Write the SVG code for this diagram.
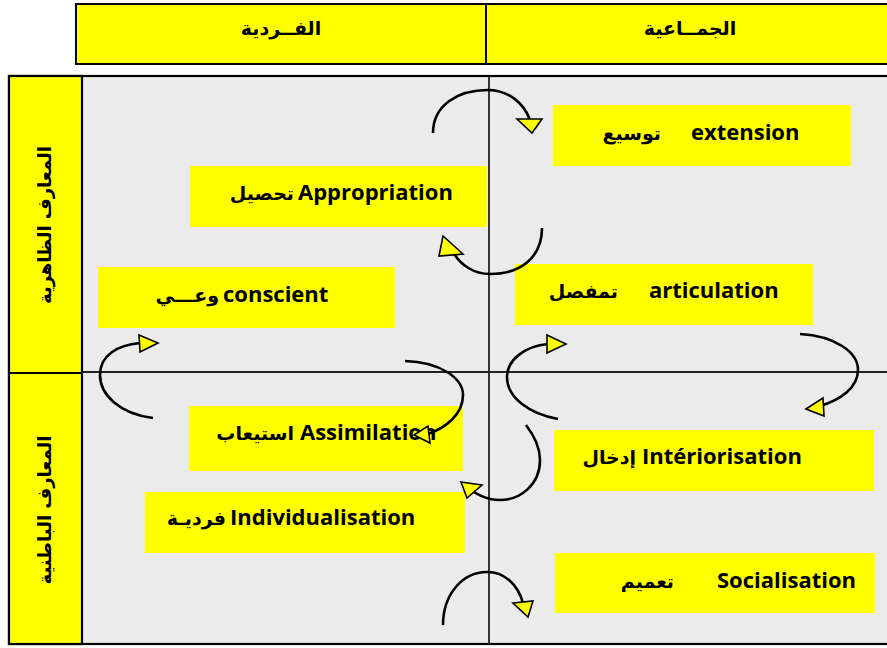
<svg xmlns="http://www.w3.org/2000/svg" width="887" height="648" viewBox="0 0 887 648">
<defs>
<style>
.hdr{fill:#FFFF00;stroke:#000;stroke-width:2}
.box{fill:#FFFF00}
.lat{font-family:'Open Sans','DejaVu Sans',sans-serif;font-weight:bold;font-size:22px;fill:#000}
.ar{font-family:'DejaVu Sans','Noto Sans',sans-serif;font-weight:bold;font-size:19px;fill:#000;text-anchor:end}
.arc2{font-family:'DejaVu Sans','Noto Sans',sans-serif;font-weight:bold;font-size:19px;fill:#000;text-anchor:middle}
.vert{font-family:'DejaVu Sans','Noto Sans',sans-serif;font-weight:bold;font-size:18px;fill:#000;text-anchor:middle}
.div{stroke:#222;stroke-width:1.8}
.arc{fill:none;stroke:#000;stroke-width:2.6;stroke-linecap:butt}
.head{fill:#FFFF00;stroke:#000;stroke-width:1.6;stroke-linejoin:miter}
</style>
</defs>
<rect width="887" height="648" fill="#fff"/>
<g id="header">
<rect class="hdr" x="76" y="4" width="812" height="60"/>
<line x1="486" y1="4" x2="486" y2="64" stroke="#000" stroke-width="2"/>
<text class="arc2" x="281" y="35">الفــردية</text>
<text class="arc2" x="690" y="35">الجمــاعية</text>
</g>
<g id="frame">
<rect x="9" y="76" width="880" height="568" fill="#EBEBEB" stroke="#000" stroke-width="2.2"/>
<rect x="9" y="76" width="73" height="568" fill="#FFFF00" stroke="#000" stroke-width="2.2"/>
<line class="div" x1="489" y1="77" x2="489" y2="644"/>
<line class="div" x1="82" y1="372" x2="887" y2="372"/>
<line x1="9" y1="373" x2="82" y2="373" stroke="#000" stroke-width="2.2"/>
<text class="vert" transform="translate(51,225) rotate(-90)">المعارف الظاهرية</text>
<text class="vert" transform="translate(51,510) rotate(-90)">المعارف الباطنية</text>
</g>
<g id="extension">
<rect class="box" x="553" y="105" width="298" height="61"/>
<text class="lat" x="691" y="140">extension</text>
<text class="ar" x="661" y="140">توسيع</text>
</g>
<g id="appropriation">
<rect class="box" x="190" y="166" width="297" height="61"/>
<text class="lat" x="298" y="200">Appropriation</text>
<text class="ar" x="294" y="200">تحصيل</text>
</g>
<g id="conscient">
<rect class="box" x="98" y="267" width="297" height="61"/>
<text class="lat" x="223" y="302">conscient</text>
<text class="ar" x="219" y="302">وعـــي</text>
</g>
<g id="articulation">
<rect class="box" x="515" y="264" width="298" height="61"/>
<text class="lat" x="649" y="298">articulation</text>
<text class="ar" x="618" y="298">تمفصل</text>
</g>
<g id="assimilation">
<rect class="box" x="189" y="406" width="274" height="65"/>
<text class="lat" x="300" y="440">Assimilation</text>
<text class="ar" x="294" y="440">استيعاب</text>
</g>
<g id="individualisation">
<rect class="box" x="145" y="492" width="320" height="61"/>
<text class="lat" x="230" y="525">Individualisation</text>
<text class="ar" x="226" y="525">فرديـة</text>
</g>
<g id="interiorisation">
<rect class="box" x="554" y="430" width="320" height="61"/>
<text class="lat" x="642" y="464">Intériorisation</text>
<text class="ar" x="636" y="464">إدخال</text>
</g>
<g id="socialisation">
<rect class="box" x="555" y="553" width="320" height="60"/>
<text class="lat" x="717" y="588">Socialisation</text>
<text class="ar" x="674" y="588">تعميم</text>
</g>
<g id="connectors">
<path class="arc" d="M433,133 C433,105 458,90 488,90 C508,90 524,103 530,120"/>
<polygon class="head" points="517,119 542,119 532,133"/>
<path class="arc" d="M542,228 C542,258 520,274 490,274 C475,274 460,266 452,250"/>
<polygon class="head" points="443,236 439,256 463,254"/>
<path class="arc" d="M153,418 C120,414 100,395 100,375 C100,355 118,345 140,343"/>
<polygon class="head" points="139,335 140,352 158,343"/>
<path class="arc" d="M405,361 C440,362 463,378 463,395 C463,415 445,428 428,434"/>
<polygon class="head" points="414,435 428,426 430,443"/>
<path class="arc" d="M558,419 C530,414 507,398 507,377 C507,360 525,346 548,344"/>
<polygon class="head" points="547,335 547,353 566,344"/>
<path class="arc" d="M800,334 C835,336 858,352 858,370 C858,388 840,400 820,406"/>
<polygon class="head" points="806,409 823,398 824,416"/>
<path class="arc" d="M526,425 C536,438 540,450 540,460 C540,485 520,500 500,500 C485,500 475,493 468,488"/>
<polygon class="head" points="461,482 482,485 467,498"/>
<path class="arc" d="M443,625 C443,595 462,572 487,572 C505,572 518,585 523,603"/>
<polygon class="head" points="513,603 533,601 528,617"/>
</g>
</svg>
